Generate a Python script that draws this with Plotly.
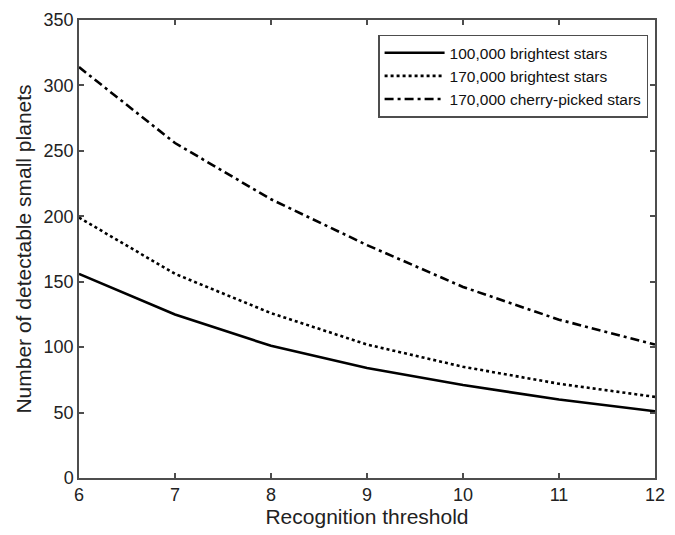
import plotly.graph_objects as go

# Recognition threshold values
thresholds = [6, 7, 8, 9, 10, 11, 12]

# Number of detectable small planets for each star sample
brightest_100k = [156, 125, 101, 84, 71, 60, 51]
brightest_170k = [199, 156, 126, 102, 85, 72, 62]
cherry_picked_170k = [314, 256, 213, 178, 146, 121, 102]

series_names = [
    "100,000 brightest stars",
    "170,000 brightest stars",
    "170,000 cherry-picked stars",
]

x_ticks = [6, 7, 8, 9, 10, 11, 12]
y_ticks = [0, 50, 100, 150, 200, 250, 300, 350]

font_family = "Liberation Sans, Arial, sans-serif"
axis_color = "#4d4d4d"

fig = go.Figure()
fig.add_trace(go.Scatter(
    x=thresholds, y=brightest_100k, mode="lines", name=series_names[0],
    line=dict(color="black", width=2.6, dash="solid"),
))
fig.add_trace(go.Scatter(
    x=thresholds, y=brightest_170k, mode="lines", name=series_names[1],
    line=dict(color="black", width=2.6, dash="dot"),
))
fig.add_trace(go.Scatter(
    x=thresholds, y=cherry_picked_170k, mode="lines", name=series_names[2],
    line=dict(color="black", width=2.6, dash="9px,4px,3px,4px"),
))

axis_common = dict(
    showgrid=False, zeroline=False, showline=True, linecolor=axis_color,
    linewidth=1.5, mirror="ticks", ticks="inside", ticklen=5,
    tickcolor=axis_color, tickwidth=1.5,
    tickfont=dict(family=font_family, size=18, color="#222"),
)

fig.update_xaxes(
    range=[6, 12], tickvals=x_ticks,
    title=dict(text="Recognition threshold", standoff=5,
               font=dict(family=font_family, size=21, color="#222")),
    **axis_common,
)
fig.update_yaxes(
    range=[0, 350], tickvals=y_ticks,
    title=dict(text="Number of detectable small planets", standoff=6,
               font=dict(family=font_family, size=21, color="#222")),
    **axis_common,
)

fig.update_layout(
    width=675, height=535,
    margin=dict(l=79, r=10, t=17, b=55),
    paper_bgcolor="white", plot_bgcolor="white",
    showlegend=True,
    legend=dict(
        x=0.988, y=0.968, xanchor="right", yanchor="top",
        bgcolor="white", bordercolor=axis_color, borderwidth=1.5,
        font=dict(family=font_family, size=15.5, color="#111"),
        itemwidth=60, tracegroupgap=0,
    ),
    font=dict(family=font_family),
)

fig.write_html("out.html")
